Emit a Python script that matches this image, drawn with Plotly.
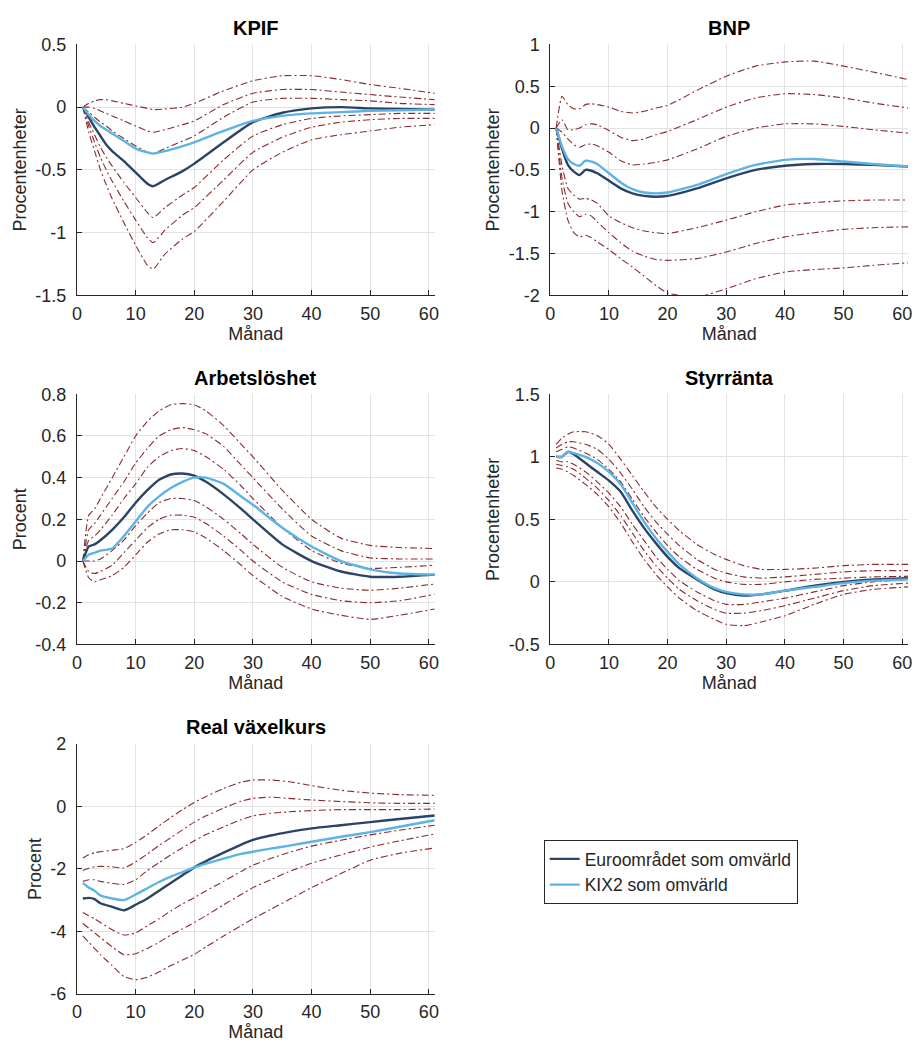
import plotly.graph_objects as go

# ---------------- data ----------------
x_ticks = [0, 10, 20, 30, 40, 50, 60]
x_ticklabels = ["0", "10", "20", "30", "40", "50", "60"]

# KPIF
kpif_month = [1, 2, 3, 4, 5, 6, 8, 10, 12, 13, 15, 18, 20, 25, 30, 35, 40, 45, 50, 55, 61]
kpif_euro = [0, -0.08, -0.16, -0.23, -0.30, -0.35, -0.43, -0.52, -0.61, -0.63, -0.58, -0.51, -0.45, -0.28, -0.12, -0.045, -0.01, 0.0, -0.01, -0.015, -0.02]
kpif_kix2 = [0, -0.06, -0.11, -0.15, -0.18, -0.21, -0.27, -0.33, -0.36, -0.37, -0.35, -0.31, -0.28, -0.19, -0.11, -0.07, -0.05, -0.04, -0.03, -0.025, -0.02]
kpif_hi3 = [0, 0.03, 0.05, 0.06, 0.06, 0.05, 0.03, 0.01, -0.01, -0.02, -0.015, 0.0, 0.03, 0.13, 0.21, 0.25, 0.25, 0.22, 0.18, 0.15, 0.11]
kpif_hi2 = [0, 0.0, -0.01, -0.03, -0.05, -0.07, -0.11, -0.15, -0.19, -0.20, -0.18, -0.14, -0.11, 0.02, 0.11, 0.14, 0.14, 0.12, 0.10, 0.08, 0.06]
kpif_hi1 = [0, -0.04, -0.08, -0.12, -0.15, -0.19, -0.25, -0.31, -0.36, -0.37, -0.33, -0.27, -0.23, -0.08, 0.04, 0.07, 0.07, 0.06, 0.05, 0.03, 0.02]
kpif_lo1 = [0, -0.12, -0.22, -0.32, -0.40, -0.47, -0.60, -0.72, -0.84, -0.88, -0.80, -0.70, -0.64, -0.42, -0.23, -0.14, -0.09, -0.07, -0.06, -0.05, -0.05]
kpif_lo2 = [0, -0.15, -0.28, -0.40, -0.50, -0.59, -0.75, -0.90, -1.04, -1.08, -0.98, -0.86, -0.80, -0.58, -0.36, -0.24, -0.16, -0.12, -0.10, -0.09, -0.09]
kpif_lo3 = [0, -0.20, -0.35, -0.50, -0.62, -0.73, -0.92, -1.10, -1.26, -1.29, -1.17, -1.05, -0.99, -0.75, -0.50, -0.36, -0.26, -0.22, -0.19, -0.16, -0.14]
kpif_yticks = [-1.5, -1, -0.5, 0, 0.5]
kpif_yticklabels = ["-1.5", "-1", "-0.5", "0", "0.5"]

# BNP
bnp_month = [1, 2, 3, 4, 5, 6, 7, 8, 10, 12, 14, 16, 18, 20, 25, 30, 35, 40, 45, 50, 55, 61]
bnp_euro = [0, -0.25, -0.44, -0.52, -0.56, -0.50, -0.51, -0.54, -0.63, -0.72, -0.78, -0.81, -0.82, -0.81, -0.72, -0.60, -0.50, -0.45, -0.43, -0.43, -0.44, -0.46]
bnp_kix2 = [0, -0.22, -0.37, -0.43, -0.45, -0.39, -0.40, -0.43, -0.54, -0.65, -0.73, -0.77, -0.78, -0.77, -0.68, -0.55, -0.44, -0.38, -0.37, -0.40, -0.43, -0.46]
bnp_hi3 = [0, 0.38, 0.28, 0.23, 0.23, 0.28, 0.29, 0.28, 0.25, 0.20, 0.18, 0.20, 0.24, 0.27, 0.45, 0.62, 0.74, 0.79, 0.80, 0.74, 0.67, 0.58]
bnp_hi2 = [0, 0.10, -0.02, -0.02, 0.0, 0.04, 0.05, 0.04, -0.03, -0.11, -0.15, -0.13, -0.08, -0.04, 0.10, 0.25, 0.36, 0.41, 0.40, 0.36, 0.30, 0.24]
bnp_hi1 = [0, -0.05, -0.13, -0.20, -0.23, -0.20, -0.19, -0.21, -0.29, -0.39, -0.44, -0.43, -0.41, -0.38, -0.25, -0.10, 0.0, 0.05, 0.05, 0.02, -0.02, -0.06]
bnp_lo1 = [0, -0.45, -0.72, -0.80, -0.85, -0.84, -0.86, -0.90, -1.05, -1.13, -1.19, -1.23, -1.25, -1.26, -1.19, -1.10, -1.00, -0.92, -0.89, -0.87, -0.86, -0.86]
bnp_lo2 = [0, -0.60, -0.90, -1.00, -1.06, -1.03, -1.05, -1.12, -1.25, -1.37, -1.47, -1.53, -1.57, -1.58, -1.56, -1.48, -1.38, -1.30, -1.25, -1.21, -1.19, -1.18]
bnp_lo3 = [0, -0.75, -1.10, -1.25, -1.30, -1.28, -1.31, -1.36, -1.45, -1.56, -1.66, -1.77, -1.88, -1.97, -2.02, -1.92, -1.80, -1.72, -1.69, -1.67, -1.64, -1.61]
bnp_yticks = [-2, -1.5, -1, -0.5, 0, 0.5, 1]
bnp_yticklabels = ["-2", "-1.5", "-1", "-0.5", "0", "0.5", "1"]

# Arbetslöshet
arb_month = [1, 2, 3, 4, 6, 8, 10, 12, 14, 16, 18, 20, 22, 25, 28, 30, 35, 40, 45, 50, 55, 61]
arb_euro = [0, 0.07, 0.08, 0.10, 0.15, 0.21, 0.28, 0.34, 0.39, 0.415, 0.42, 0.41, 0.38, 0.32, 0.25, 0.20, 0.08, 0.0, -0.05, -0.075, -0.075, -0.065]
arb_kix2 = [0, 0.03, 0.04, 0.05, 0.06, 0.12, 0.19, 0.26, 0.31, 0.35, 0.38, 0.40, 0.40, 0.37, 0.31, 0.27, 0.16, 0.07, 0.0, -0.04, -0.06, -0.065]
arb_hi3 = [0, 0.22, 0.25, 0.30, 0.40, 0.50, 0.60, 0.67, 0.72, 0.75, 0.755, 0.75, 0.72, 0.65, 0.56, 0.50, 0.34, 0.20, 0.11, 0.075, 0.065, 0.06]
arb_hi2 = [0, 0.15, 0.18, 0.22, 0.30, 0.38, 0.47, 0.54, 0.60, 0.63, 0.64, 0.63, 0.61, 0.55, 0.46, 0.40, 0.25, 0.12, 0.05, 0.015, 0.01, 0.01]
arb_hi1 = [0, 0.10, 0.12, 0.15, 0.22, 0.30, 0.37, 0.45, 0.50, 0.53, 0.54, 0.53, 0.50, 0.44, 0.36, 0.30, 0.16, 0.05, -0.01, -0.035, -0.03, -0.02]
arb_lo1 = [0, 0.0, 0.0, 0.01, 0.05, 0.10, 0.17, 0.23, 0.28, 0.30, 0.30, 0.29, 0.26, 0.20, 0.13, 0.08, -0.03, -0.10, -0.13, -0.14, -0.13, -0.11]
arb_lo2 = [0, -0.05, -0.06, -0.05, -0.02, 0.04, 0.10, 0.16, 0.20, 0.22, 0.22, 0.21, 0.18, 0.12, 0.05, 0.0, -0.10, -0.16, -0.19, -0.20, -0.19, -0.16]
arb_lo3 = [0, -0.08, -0.10, -0.09, -0.07, -0.03, 0.03, 0.09, 0.13, 0.15, 0.15, 0.14, 0.11, 0.05, -0.02, -0.07, -0.17, -0.23, -0.26, -0.28, -0.26, -0.23]
arb_yticks = [-0.4, -0.2, 0, 0.2, 0.4, 0.6, 0.8]
arb_yticklabels = ["-0.4", "-0.2", "0", "0.2", "0.4", "0.6", "0.8"]

# Styrränta
styr_month = [1, 2, 3, 4, 6, 8, 10, 12, 14, 16, 18, 20, 22, 25, 28, 30, 33, 36, 40, 45, 50, 55, 61]
styr_euro = [1.0, 1.0, 1.04, 1.02, 0.95, 0.88, 0.81, 0.72, 0.57, 0.43, 0.31, 0.20, 0.11, 0.02, -0.06, -0.09, -0.11, -0.10, -0.07, -0.03, 0.0, 0.02, 0.03]
styr_kix2 = [1.0, 1.0, 1.04, 1.03, 1.0, 0.95, 0.88, 0.78, 0.63, 0.48, 0.35, 0.24, 0.14, 0.03, -0.05, -0.08, -0.10, -0.10, -0.07, -0.04, -0.01, 0.01, 0.02]
styr_hi3 = [1.10, 1.15, 1.18, 1.20, 1.20, 1.17, 1.10, 0.98, 0.85, 0.72, 0.60, 0.50, 0.41, 0.30, 0.22, 0.18, 0.13, 0.10, 0.10, 0.11, 0.13, 0.14, 0.14]
styr_hi2 = [1.07, 1.10, 1.12, 1.12, 1.10, 1.06, 0.98, 0.87, 0.74, 0.60, 0.48, 0.38, 0.29, 0.18, 0.10, 0.07, 0.04, 0.03, 0.04, 0.06, 0.08, 0.09, 0.09]
styr_hi1 = [1.04, 1.06, 1.08, 1.07, 1.03, 0.98, 0.90, 0.80, 0.66, 0.52, 0.40, 0.29, 0.20, 0.10, 0.03, 0.0, -0.02, -0.02, 0.0, 0.02, 0.03, 0.04, 0.045]
styr_lo1 = [0.97, 0.96, 0.96, 0.94, 0.88, 0.80, 0.71, 0.60, 0.46, 0.33, 0.20, 0.10, 0.01, -0.08, -0.15, -0.18, -0.18, -0.16, -0.13, -0.08, -0.03, 0.0, 0.02]
styr_lo2 = [0.94, 0.93, 0.92, 0.90, 0.83, 0.75, 0.65, 0.53, 0.39, 0.25, 0.13, 0.03, -0.06, -0.15, -0.22, -0.25, -0.25, -0.23, -0.19, -0.13, -0.07, -0.03, -0.01]
styr_lo3 = [0.91, 0.90, 0.88, 0.85, 0.78, 0.70, 0.60, 0.47, 0.32, 0.18, 0.06, -0.04, -0.13, -0.23, -0.30, -0.34, -0.35, -0.32, -0.27, -0.18, -0.10, -0.06, -0.04]
styr_yticks = [-0.5, 0, 0.5, 1, 1.5]
styr_yticklabels = ["-0.5", "0", "0.5", "1", "1.5"]

# Real växelkurs
real_month = [1, 2, 3, 4, 6, 8, 10, 12, 14, 16, 18, 20, 22, 25, 28, 30, 33, 36, 40, 45, 50, 55, 61]
real_euro = [-2.95, -2.93, -2.97, -3.10, -3.22, -3.33, -3.15, -2.95, -2.70, -2.45, -2.20, -1.95, -1.75, -1.48, -1.22, -1.07, -0.93, -0.82, -0.70, -0.60, -0.50, -0.40, -0.29]
real_kix2 = [-2.45, -2.60, -2.70, -2.85, -2.95, -3.00, -2.82, -2.62, -2.42, -2.25, -2.10, -1.95, -1.83, -1.67, -1.52, -1.45, -1.35, -1.26, -1.13, -0.97, -0.82, -0.65, -0.44]
real_hi3 = [-1.65, -1.55, -1.48, -1.45, -1.40, -1.35, -1.15, -0.90, -0.62, -0.35, -0.10, 0.13, 0.32, 0.58, 0.78, 0.85, 0.85, 0.80, 0.67, 0.52, 0.43, 0.38, 0.36]
real_hi2 = [-2.05, -1.98, -1.93, -1.92, -1.93, -1.97, -1.78, -1.52, -1.25, -1.00, -0.75, -0.50, -0.30, -0.05, 0.17, 0.26, 0.30, 0.26, 0.21, 0.16, 0.12, 0.10, 0.10]
real_hi1 = [-2.40, -2.35, -2.35, -2.40, -2.46, -2.50, -2.35, -2.05, -1.80, -1.55, -1.32, -1.10, -0.90, -0.65, -0.42, -0.30, -0.22, -0.17, -0.13, -0.10, -0.10, -0.10, -0.08]
real_lo1 = [-3.40, -3.50, -3.60, -3.72, -3.95, -4.12, -4.05, -3.82, -3.60, -3.35, -3.12, -2.92, -2.70, -2.40, -2.08, -1.88, -1.67, -1.48, -1.27, -1.08, -0.91, -0.76, -0.60]
real_lo2 = [-3.75, -3.90, -4.05, -4.20, -4.50, -4.75, -4.72, -4.55, -4.35, -4.12, -3.92, -3.72, -3.50, -3.15, -2.82, -2.60, -2.35, -2.10, -1.82, -1.55, -1.30, -1.10, -0.88]
real_lo3 = [-4.15, -4.35, -4.55, -4.75, -5.10, -5.45, -5.55, -5.47, -5.30, -5.10, -4.92, -4.74, -4.50, -4.15, -3.82, -3.60, -3.30, -3.00, -2.60, -2.15, -1.72, -1.50, -1.33]
real_yticks = [-6, -4, -2, 0, 2]
real_yticklabels = ["-6", "-4", "-2", "0", "2"]

series_names = ["Euroområdet som omvärld", "KIX2 som omvärld"]

# ---------------- layout helpers ----------------
W, H = 919, 1055
FONT = "Liberation Sans, Arial, Helvetica, sans-serif"
TXT = "#262626"
DARK = "#2b4466"
LIGHT = "#5cb3e4"
BAND = "#8a2b2b"
GRID = "#e2e2e2"

col_px = [(72.7, 434.0), (550.7, 912.0)]
row_px = [(35.0, 291.0), (391.7, 646.7), (748.3, 1002.7)]

panels = [
    dict(title="KPIF", ylabel="Procentenheter", r=0, c=0, m=kpif_month, euro=kpif_euro, kix=kpif_kix2,
         bands=[kpif_hi3, kpif_hi2, kpif_hi1, kpif_lo1, kpif_lo2, kpif_lo3],
         yt=kpif_yticks, ytl=kpif_yticklabels),
    dict(title="BNP", ylabel="Procentenheter", r=0, c=1, m=bnp_month, euro=bnp_euro, kix=bnp_kix2,
         bands=[bnp_hi3, bnp_hi2, bnp_hi1, bnp_lo1, bnp_lo2, bnp_lo3],
         yt=bnp_yticks, ytl=bnp_yticklabels),
    dict(title="Arbetslöshet", ylabel="Procent", r=1, c=0, m=arb_month, euro=arb_euro, kix=arb_kix2,
         bands=[arb_hi3, arb_hi2, arb_hi1, arb_lo1, arb_lo2, arb_lo3],
         yt=arb_yticks, ytl=arb_yticklabels),
    dict(title="Styrränta", ylabel="Procentenheter", r=1, c=1, m=styr_month, euro=styr_euro, kix=styr_kix2,
         bands=[styr_hi3, styr_hi2, styr_hi1, styr_lo1, styr_lo2, styr_lo3],
         yt=styr_yticks, ytl=styr_yticklabels),
    dict(title="Real växelkurs", ylabel="Procent", r=2, c=0, m=real_month, euro=real_euro, kix=real_kix2,
         bands=[real_hi3, real_hi2, real_hi1, real_lo1, real_lo2, real_lo3],
         yt=real_yticks, ytl=real_yticklabels),
]

fig = go.Figure()
annotations = []
layout_axes = {}

for i, p in enumerate(panels, start=1):
    xa = "x" if i == 1 else f"x{i}"
    ya = "y" if i == 1 else f"y{i}"
    for b in p["bands"]:
        fig.add_trace(go.Scatter(x=p["m"], y=b, mode="lines", xaxis=xa, yaxis=ya, showlegend=False,
                                 hoverinfo="skip",
                                 line=dict(color=BAND, width=1.1, dash="7px,3px,2px,3px",
                                           shape="spline", smoothing=0.5)))
    fig.add_trace(go.Scatter(x=p["m"], y=p["euro"], mode="lines", xaxis=xa, yaxis=ya,
                             name=series_names[0], legendgroup="euro", showlegend=(i == 1),
                             line=dict(color=DARK, width=2.4, shape="spline", smoothing=0.5)))
    fig.add_trace(go.Scatter(x=p["m"], y=p["kix"], mode="lines", xaxis=xa, yaxis=ya,
                             name=series_names[1], legendgroup="kix", showlegend=(i == 1),
                             line=dict(color=LIGHT, width=2.4, shape="spline", smoothing=0.5)))

    x0, x1 = col_px[p["c"]]
    top, bot = row_px[p["r"]]
    xdom = [x0 / W, x1 / W]
    ydom = [1 - bot / H, 1 - top / H]
    key = "" if i == 1 else str(i)
    axis_common = dict(showgrid=True, gridcolor=GRID, gridwidth=1, zeroline=False,
                       showline=True, linecolor=TXT, linewidth=1, ticks="inside", ticklen=5,
                       tickcolor=TXT, tickfont=dict(family=FONT, size=18, color=TXT))
    layout_axes["xaxis" + key] = dict(axis_common, domain=xdom, anchor=ya, range=[0, 61],
                                      tickmode="array", tickvals=x_ticks, ticktext=x_ticklabels,
                                      ticklabelstandoff=2,
                                      title=dict(text="Månad", font=dict(family=FONT, size=18, color=TXT),
                                                 standoff=4))
    layout_axes["yaxis" + key] = dict(axis_common, domain=ydom, anchor=xa,
                                      range=[p["yt"][0], p["yt"][-1]],
                                      tickmode="array", tickvals=p["yt"], ticktext=p["ytl"],
                                      ticklabelstandoff=6,
                                      title=dict(text=p["ylabel"], font=dict(family=FONT, size=18, color=TXT),
                                                 standoff=4))
    annotations.append(dict(text="<b>" + p["title"] + "</b>", x=(xdom[0] + xdom[1]) / 2,
                            y=1 - (top - 17) / H, xref="paper", yref="paper",
                            xanchor="center", yanchor="middle", showarrow=False,
                            font=dict(family=FONT, size=20, color="#000000")))

fig.update_layout(
    width=W, height=H, margin=dict(l=0, r=0, t=0, b=0),
    paper_bgcolor="white", plot_bgcolor="white",
    annotations=annotations,
    legend=dict(x=544 / W, y=1 - 846 / H, xanchor="left", yanchor="top",
                bgcolor="white", bordercolor=TXT, borderwidth=1,
                font=dict(family=FONT, size=17.5, color=TXT), tracegroupgap=0),
    **layout_axes,
)

fig.write_html("out.html")
